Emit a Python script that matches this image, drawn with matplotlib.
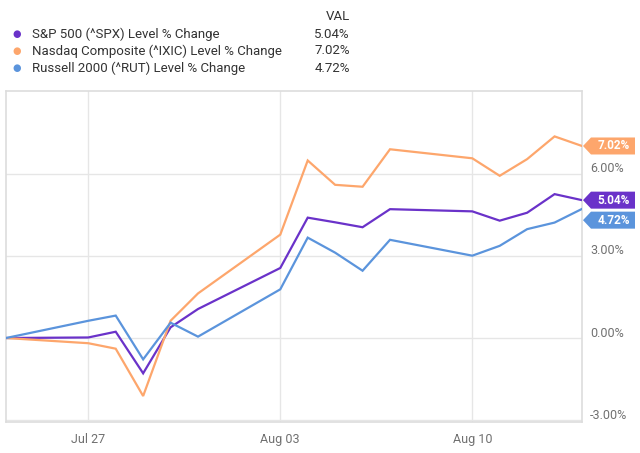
import matplotlib.pyplot as plt
import matplotlib.dates as mdates
from matplotlib.patches import Polygon
import pandas as pd

plt.rcParams['font.family'] = ['Roboto', 'DejaVu Sans']

dates = pd.to_datetime(['2020-07-24', '2020-07-27', '2020-07-28', '2020-07-29', '2020-07-30',
                        '2020-07-31', '2020-08-03', '2020-08-04', '2020-08-05', '2020-08-06',
                        '2020-08-07', '2020-08-10', '2020-08-11', '2020-08-12', '2020-08-13',
                        '2020-08-14'])
spx = [0, 0.02, 0.23, -1.29, 0.39, 1.06, 2.56, 4.40, 4.23, 4.05, 4.71, 4.63, 4.29, 4.58, 5.26, 5.04]
ixic = [0, -0.19, -0.39, -2.12, 0.63, 1.63, 3.78, 6.49, 5.60, 5.53, 6.90, 6.57, 5.93, 6.54, 7.37, 7.02]
rut = [0, 0.63, 0.82, -0.78, 0.56, 0.05, 1.78, 3.67, 3.12, 2.46, 3.59, 3.01, 3.37, 3.98, 4.22, 4.72]

names = ['S&P 500 (^SPX) Level % Change', 'Nasdaq Composite (^IXIC) Level % Change',
         'Russell 2000 (^RUT) Level % Change']
last_vals = ['5.04%', '7.02%', '4.72%']
colors = ['#6a32c9', '#fda66c', '#5b94dc']
series = [spx, ixic, rut]

y_ticks = [-3, 0, 3, 6]
x_ticks = pd.to_datetime(['2020-07-27', '2020-08-03', '2020-08-10'])
x_labels = ['Jul 27', 'Aug 03', 'Aug 10']

W, H = 640, 453
fig = plt.figure(figsize=(W / 100, H / 100), dpi=100)
fig.patch.set_facecolor('white')
ax = fig.add_axes([6 / W, 1 - 422 / H, 576 / W, 331 / H])

for vals, c in zip(series, colors):
    ax.plot(dates, vals, color=c, lw=1.6, solid_joinstyle='miter', zorder=3)

ax.set_xlim(dates[0], dates[-1])
ax.set_ylim(-3.07, 9.03)
ax.set_xticks(x_ticks)
ax.set_xticklabels(x_labels)
ax.set_yticks(y_ticks)
ax.set_yticklabels([])
ax.tick_params(axis='x', length=0, pad=8, labelsize=9, labelcolor='#707070')
ax.tick_params(axis='y', length=0)
ax.grid(True, color='#e6e6e6', lw=1)
for s in ax.spines.values():
    s.set_color('#dddddd')
    s.set_linewidth(1.2)

# y tick labels sit on the right, slightly above the grid lines
for t in y_ticks:
    ax.annotate(f'{t:.2f}%', xy=(1, t), xycoords=('axes fraction', 'data'),
                xytext=(8, 5), textcoords='offset pixels', ha='left', va='center',
                fontsize=9, color='#707070')

# end-of-line value tags, pushed apart if they overlap
fig.canvas.draw()
ends = []
for vals, c, lab in zip(series, colors, last_vals):
    py = ax.transData.transform((0, vals[-1]))[1]
    ends.append([py, c, lab])
ends.sort(key=lambda e: -e[0])
for i in range(1, len(ends)):
    if ends[i - 1][0] - ends[i][0] < 20:
        ends[i][0] = ends[i - 1][0] - 20
for py, c, lab in ends:
    x0, x1, h = 583, 635, 8.5
    pts = [(x0, py), (x0 + 8, py + h), (x1, py + h), (x1, py - h), (x0 + 8, py - h)]
    pts = [(x / W, y / H) for x, y in pts]
    fig.patches.append(Polygon(pts, closed=True, facecolor=c, edgecolor='none',
                               transform=fig.transFigure, figure=fig))
    fig.text(614 / W, py / H, lab, ha='center', va='center', fontsize=8.5,
             color='white', fontweight='bold')

# legend table at top
fig.text(350 / W, 1 - 16 / H, 'VAL', ha='right', va='center', fontsize=9.5, color='#333333')
for i, (n, c, v) in enumerate(zip(names, colors, last_vals)):
    y = 1 - (34 + 17 * i) / H
    fig.text(17 / W, y, '\u25cf', ha='center', va='center', fontsize=7, color=c)
    fig.text(32 / W, y, n, ha='left', va='center', fontsize=9.5, color='#333333')
    fig.text(350 / W, y, v, ha='right', va='center', fontsize=9.5, color='#333333')

fig.savefig('out.png', dpi=100, facecolor='white')
